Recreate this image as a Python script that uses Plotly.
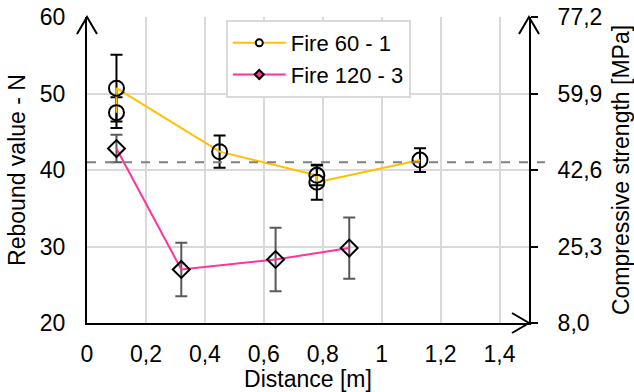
import plotly.graph_objects as go

# Rebound hammer readings along the member, two fire exposures
fire60_x = [0.1, 0.1, 0.45, 0.78, 0.78, 1.13]
fire60_n = [47.5, 50.7, 42.4, 39.3, 38.4, 41.3]
fire60_err = [2.0, 4.35, 2.1, 1.3, 2.3, 1.55]

fire120_x = [0.1, 0.32, 0.64, 0.89]
fire120_n = [42.8, 27.0, 28.3, 29.8]
fire120_err = [1.8, 3.5, 4.15, 4.0]

threshold_n = 41.0

x_ticks = [0, 0.2, 0.4, 0.6, 0.8, 1.0, 1.2, 1.4]
n_ticks = [20, 30, 40, 50, 60]
mpa_ticks = [8.0, 25.3, 42.6, 59.9, 77.2]

YELLOW = "#FFC000"
PINK = "#FF3399"
GRID = "#D9D9D9"
FONT = dict(family="Liberation Sans, Arial, sans-serif", size=23, color="black")
LEGEND_FONT = dict(family="Liberation Sans, Arial, sans-serif", size=22, color="black")

fig = go.Figure()

fig.add_trace(go.Scatter(
    x=fire60_x, y=fire60_n, mode="lines+markers", showlegend=False,
    line=dict(color=YELLOW, width=2),
    marker=dict(symbol="circle-open", size=15, color="black", line=dict(width=2)),
    error_y=dict(type="data", array=fire60_err, color="black", thickness=2, width=6),
))
fig.add_trace(go.Scatter(
    x=fire120_x, y=fire120_n, mode="lines+markers", showlegend=False,
    line=dict(color=PINK, width=2),
    marker=dict(symbol="diamond-open", size=13, color="black", line=dict(width=2)),
    error_y=dict(type="data", array=fire120_err, color="#595959", thickness=2, width=6),
))

# legend entries with small markers
fig.add_trace(go.Scatter(
    x=[None], y=[None], mode="lines+markers", name="Fire 60 - 1",
    line=dict(color=YELLOW, width=2),
    marker=dict(symbol="circle", size=7, color="white", line=dict(color="black", width=2)),
))
fig.add_trace(go.Scatter(
    x=[None], y=[None], mode="lines+markers", name="Fire 120 - 3",
    line=dict(color=PINK, width=2),
    marker=dict(symbol="diamond", size=7, color=PINK, line=dict(color="black", width=2)),
))

# secondary scale carrier
fig.add_trace(go.Scatter(
    x=[0.75], y=[40], yaxis="y2", mode="markers", showlegend=False,
    marker=dict(opacity=0), hoverinfo="skip",
))

ARROW = dict(color="black", width=2)
shapes = [
    dict(type="line", xref="paper", yref="y", x0=0, x1=1.036, y0=threshold_n, y1=threshold_n,
         line=dict(color="#808080", width=2, dash="dash"), layer="above"),
    # axis arrowheads
    dict(type="path", xref="paper", yref="paper", xsizemode="pixel", ysizemode="pixel",
         xanchor=0, yanchor=1, path="M-10,-17L0,0L10,-17", line=ARROW),
    dict(type="path", xref="paper", yref="paper", xsizemode="pixel", ysizemode="pixel",
         xanchor=1, yanchor=1, path="M-10,-17L0,0L10,-17", line=ARROW),
    dict(type="path", xref="paper", yref="paper", xsizemode="pixel", ysizemode="pixel",
         xanchor=1, yanchor=0, path="M-17,10L0,0L-17,-10", line=ARROW),
]

fig.update_layout(
    width=634, height=392,
    margin=dict(l=87, r=105, t=17, b=69, autoexpand=False),
    paper_bgcolor="white", plot_bgcolor="white",
    font=FONT,
    separators=",.",
    shapes=shapes,
    xaxis=dict(
        range=[0, 1.5], tickvals=x_ticks, showgrid=True, gridcolor=GRID, gridwidth=1.5,
        showline=True, linecolor="black", linewidth=2, ticks="", ticklabelstandoff=9,
        zeroline=False, automargin=False,
        title=dict(text="Distance [m]", standoff=4, font=FONT),
    ),
    yaxis=dict(
        range=[20, 60], tickvals=n_ticks, showgrid=True, gridcolor=GRID, gridwidth=1.5,
        showline=True, linecolor="black", linewidth=2, ticks="", ticklabelstandoff=15,
        zeroline=False, automargin=False,
        title=dict(text="Rebound value - N", standoff=8, font=FONT),
    ),
    yaxis2=dict(
        range=[8.0, 77.2], tickvals=mpa_ticks, tickformat=".1f", overlaying="y", side="right",
        showgrid=False, zeroline=False, showline=True, linecolor="black", linewidth=2,
        ticks="outside", ticklen=7, tickwidth=2, tickcolor="black", ticklabelstandoff=15,
        automargin=False,
        title=dict(text="Compressive strength [MPa]", standoff=14, font=FONT),
    ),
    legend=dict(
        x=0.314, y=0.99, xanchor="left", yanchor="top",
        bgcolor="white", bordercolor=GRID, borderwidth=2,
        itemwidth=53, tracegroupgap=0, font=LEGEND_FONT,
    ),
)

fig.write_html("out.html")
